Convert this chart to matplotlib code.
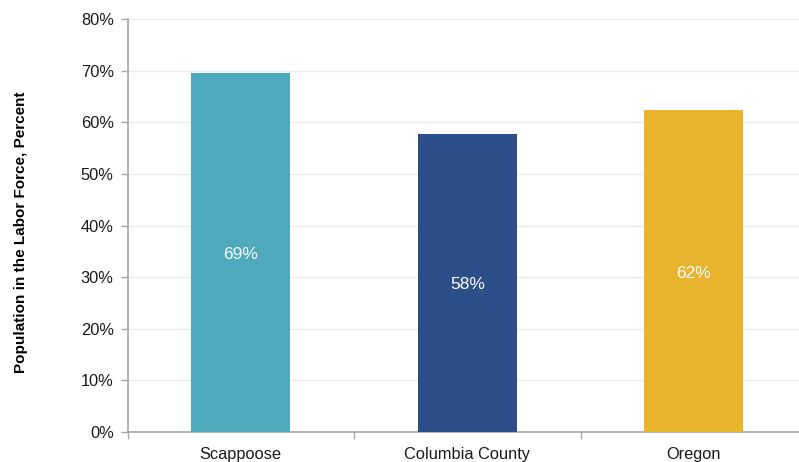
import numpy as np
import matplotlib.pyplot as plt
from matplotlib.ticker import FixedLocator, PercentFormatter

plt.rcParams["font.family"] = ["Liberation Sans", "DejaVu Sans"]
plt.rcParams["font.stretch"] = "normal"

# data
places = ["Scappoose", "Columbia County", "Oregon"]
labor_pct = [69.5, 57.8, 62.3]
bar_labels = ["69%", "58%", "62%"]
bar_colors = ["#4FAABD", "#2C4F89", "#EAB32E"]
y_ticks = [0, 10, 20, 30, 40, 50, 60, 70, 80]

fig = plt.figure(figsize=(7.99, 4.62), dpi=100)
ax = fig.add_axes([0.1596, 0.0649, 0.8504, 0.894])

x = np.arange(len(places))
bars = ax.bar(x, labor_pct, width=0.437, color=bar_colors, zorder=3)

# value labels in the middle of each bar
for b, lab in zip(bars, bar_labels):
    ax.text(b.get_x() + b.get_width() / 2, b.get_height() / 2 - 0.4, lab,
            ha="center", va="center", color="white", fontsize=12.5, zorder=4)

ax.set_xlim(-0.5, len(places) - 0.5)
ax.set_ylim(0, 80)
ax.set_yticks(y_ticks)
ax.yaxis.set_major_formatter(PercentFormatter(decimals=0))
for t in y_ticks[1:]:
    ax.axhline(t, color="#EDEDED", lw=1, zorder=1)

ax.set_xticks(x)
ax.set_xticklabels(places, fontsize=11.8)
ax.xaxis.set_minor_locator(FixedLocator(np.arange(-0.5, len(places), 1.0)))
ax.tick_params(axis="x", which="major", length=0, pad=11, colors="#1a1a1a")
ax.tick_params(axis="x", which="minor", length=5, color="#A6A6A6", width=1)
ax.tick_params(axis="y", length=5, color="#A6A6A6", width=1, pad=5,
               labelsize=11.8, labelcolor="#1a1a1a")

for s in ["top", "right"]:
    ax.spines[s].set_visible(False)
for s in ["left", "bottom"]:
    ax.spines[s].set_color("#A6A6A6")
    ax.spines[s].set_linewidth(1.2)

ax.set_ylabel("Population in the Labor Force, Percent",
              fontsize=11, fontweight="bold")
ax.yaxis.set_label_coords(-0.146, 0.484)

fig.savefig("out.png", dpi=100)
